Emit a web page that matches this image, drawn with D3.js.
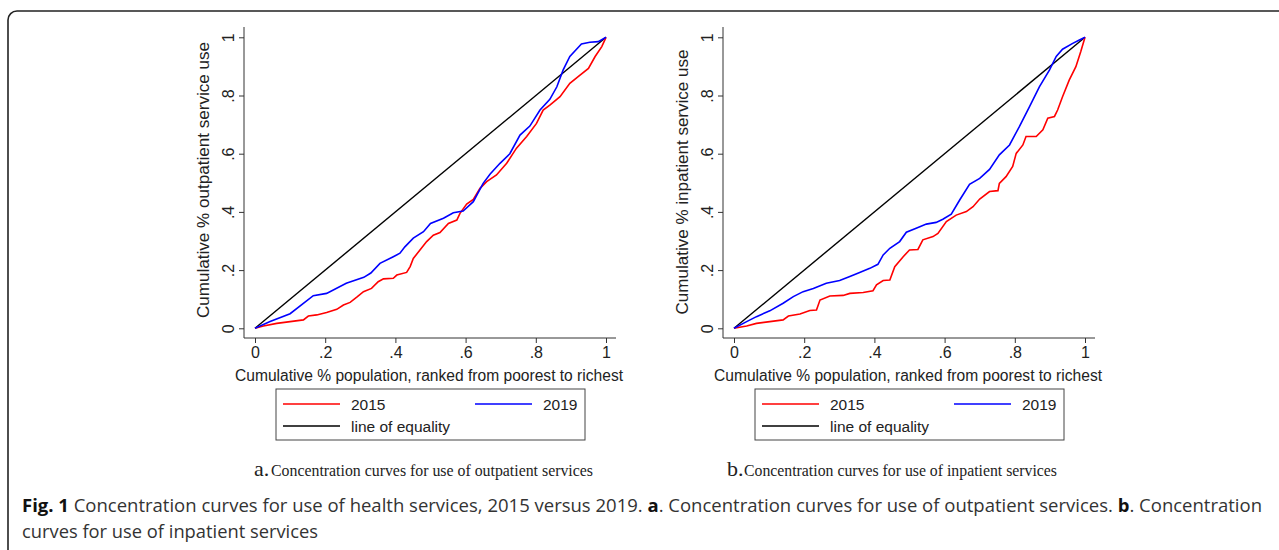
<!DOCTYPE html>
<html>
<head>
<meta charset="utf-8">
<script src="https://cdn.jsdelivr.net/npm/d3@7"></script>
<style>
  body { margin: 0; background: #fff; }
  svg { display: block; }
</style>
</head>
<body>
<script>
// tick values and labels (Stata style, no leading zero)
var tickValues = [0, 0.2, 0.4, 0.6, 0.8, 1];
var tickLabels = ['0', '.2', '.4', '.6', '.8', '1'];
var seriesNames = ['2015', '2019', 'line of equality'];
var seriesColors = ['#ff0000', '#0000ff', '#000000'];

// outpatient curves, [cumulative population, cumulative use]
var outpatient2015 = [[0,0],[0.024,0.008],[0.062,0.017],[0.1,0.023],[0.138,0.029],[0.152,0.042],[0.176,0.046],[0.204,0.054],[0.233,0.065],[0.252,0.08],[0.271,0.089],[0.29,0.107],[0.309,0.126],[0.332,0.137],[0.351,0.16],[0.366,0.17],[0.394,0.172],[0.404,0.183],[0.432,0.192],[0.442,0.212],[0.451,0.24],[0.47,0.269],[0.489,0.298],[0.508,0.32],[0.527,0.329],[0.551,0.36],[0.575,0.372],[0.584,0.395],[0.603,0.427],[0.622,0.443],[0.641,0.481],[0.66,0.504],[0.688,0.527],[0.717,0.567],[0.745,0.619],[0.774,0.659],[0.802,0.704],[0.821,0.75],[0.84,0.767],[0.869,0.796],[0.897,0.842],[0.926,0.87],[0.95,0.893],[0.969,0.934],[0.988,0.968],[1,1]];
var outpatient2019 = [[0,0],[0.043,0.023],[0.1,0.05],[0.166,0.112],[0.204,0.12],[0.26,0.155],[0.31,0.175],[0.33,0.19],[0.356,0.223],[0.394,0.246],[0.413,0.258],[0.427,0.28],[0.451,0.31],[0.48,0.332],[0.5,0.36],[0.537,0.378],[0.565,0.397],[0.593,0.403],[0.622,0.435],[0.65,0.498],[0.67,0.53],[0.698,0.567],[0.726,0.6],[0.755,0.664],[0.783,0.695],[0.812,0.75],[0.84,0.787],[0.86,0.83],[0.878,0.888],[0.897,0.934],[0.916,0.959],[0.93,0.977],[0.954,0.983],[0.978,0.985],[1,1]];

// inpatient curves
var inpatient2015 = [[0,0],[0.036,0.008],[0.064,0.017],[0.102,0.023],[0.14,0.029],[0.155,0.042],[0.188,0.049],[0.216,0.061],[0.235,0.063],[0.245,0.097],[0.273,0.111],[0.311,0.113],[0.33,0.12],[0.368,0.123],[0.396,0.129],[0.406,0.149],[0.425,0.164],[0.444,0.166],[0.458,0.212],[0.482,0.246],[0.5,0.269],[0.524,0.271],[0.538,0.304],[0.567,0.315],[0.581,0.326],[0.605,0.367],[0.633,0.389],[0.662,0.401],[0.681,0.418],[0.7,0.444],[0.728,0.47],[0.752,0.473],[0.756,0.498],[0.775,0.521],[0.794,0.556],[0.804,0.601],[0.823,0.63],[0.832,0.659],[0.861,0.659],[0.88,0.682],[0.894,0.722],[0.913,0.728],[0.922,0.75],[0.936,0.796],[0.955,0.853],[0.974,0.899],[0.988,0.951],[1,1]];
var inpatient2019 = [[0,0],[0.036,0.023],[0.064,0.04],[0.102,0.06],[0.14,0.086],[0.169,0.109],[0.197,0.126],[0.226,0.137],[0.263,0.155],[0.301,0.164],[0.33,0.178],[0.358,0.192],[0.387,0.206],[0.41,0.22],[0.425,0.252],[0.444,0.275],[0.472,0.298],[0.491,0.33],[0.519,0.344],[0.548,0.358],[0.576,0.364],[0.595,0.375],[0.619,0.392],[0.643,0.441],[0.671,0.495],[0.7,0.515],[0.728,0.546],[0.756,0.596],[0.785,0.63],[0.813,0.693],[0.842,0.762],[0.87,0.83],[0.899,0.888],[0.918,0.934],[0.936,0.959],[0.965,0.979],[0.984,0.991],[1,1]];
var equality = [[0,0],[1,1]];

var panels = [
    { dx: 0, ytitle: 'Cumulative % outpatient service use', ylen: 276, yc: 180,
      series: [outpatient2015, outpatient2019],
      letter: 'a.', caption: 'Concentration curves for use of outpatient services', capX: 254, capLen: 322 },
    { dx: 479, ytitle: 'Cumulative % inpatient service use', ylen: 265, yc: 182,
      series: [inpatient2015, inpatient2019],
      letter: 'b.', caption: 'Concentration curves for use of inpatient services', capX: 727, capLen: 313 }
];

var W = 1279, H = 550;
var svg = d3.select('body').append('svg').attr('width', W).attr('height', H);

// outer frame (continues past the picture edge)
svg.append('rect')
    .attr('x', 8).attr('y', 11)
    .attr('width', 1300).attr('height', 600)
    .attr('rx', 9).attr('ry', 9)
    .attr('fill', 'none').attr('stroke', '#222').attr('stroke-width', 1.6);

var sans = 'Liberation Sans, Arial, sans-serif';

panels.forEach(function (p) {
    var g = svg.append('g').attr('transform', 'translate(' + p.dx + ',0)');
    var x = d3.scaleLinear().domain([0, 1]).range([255, 606]);
    var y = d3.scaleLinear().domain([0, 1]).range([328.3, 37.3]);

    // y axis
    var yAxis = d3.axisLeft(y).tickValues(tickValues)
        .tickFormat(function (d, i) { return tickLabels[i]; })
        .tickSize(5).tickPadding(0);
    var ya = g.append('g').attr('transform', 'translate(244,0)').call(yAxis);
    ya.select('.domain').attr('d', 'M0,27V338').attr('stroke', '#333');
    ya.selectAll('.tick line').attr('stroke', '#333');
    ya.selectAll('.tick text')
        .attr('x', null).attr('dy', null)
        .attr('transform', 'translate(-10,0) rotate(-90)')
        .attr('text-anchor', 'middle')
        .style('font-family', sans).style('font-size', '16px').attr('fill', '#222');

    // x axis
    var xAxis = d3.axisBottom(x).tickValues(tickValues)
        .tickFormat(function (d, i) { return tickLabels[i]; })
        .tickSize(5).tickPadding(4);
    var xa = g.append('g').attr('transform', 'translate(0,338)').call(xAxis);
    xa.select('.domain').attr('d', 'M244,0H616').attr('stroke', '#333');
    xa.selectAll('.tick line').attr('stroke', '#333');
    xa.selectAll('.tick text')
        .style('font-family', sans).style('font-size', '16px').attr('fill', '#222');

    // axis titles
    g.append('text')
        .attr('transform', 'translate(209,' + p.yc + ') rotate(-90)')
        .attr('text-anchor', 'middle')
        .attr('textLength', p.ylen).attr('lengthAdjust', 'spacingAndGlyphs')
        .style('font-family', sans).style('font-size', '17px').attr('fill', '#222')
        .text(p.ytitle);
    g.append('text')
        .attr('x', 429).attr('y', 381)
        .attr('text-anchor', 'middle')
        .attr('textLength', 388).attr('lengthAdjust', 'spacingAndGlyphs')
        .style('font-family', sans).style('font-size', '16px').attr('fill', '#222')
        .text('Cumulative % population, ranked from poorest to richest');

    // curves
    var line = d3.line().x(function (d) { return x(d[0]); }).y(function (d) { return y(d[1]); });
    g.append('path').datum(equality).attr('d', line)
        .attr('fill', 'none').attr('stroke', seriesColors[2]).attr('stroke-width', 1.4);
    g.append('path').datum(p.series[0]).attr('d', line)
        .attr('fill', 'none').attr('stroke', seriesColors[0]).attr('stroke-width', 1.6);
    g.append('path').datum(p.series[1]).attr('d', line)
        .attr('fill', 'none').attr('stroke', seriesColors[1]).attr('stroke-width', 1.6);

    // legend
    var lg = g.append('g');
    lg.append('rect').attr('x', 276).attr('y', 389).attr('width', 309).attr('height', 51)
        .attr('fill', 'none').attr('stroke', '#444').attr('stroke-width', 1);
    var items = [
        { lx: 283, ly: 404, i: 0 },
        { lx: 475, ly: 404, i: 1 },
        { lx: 283, ly: 426, i: 2 }
    ];
    items.forEach(function (it) {
        lg.append('line').attr('x1', it.lx).attr('x2', it.lx + 57)
            .attr('y1', it.ly).attr('y2', it.ly)
            .attr('stroke', seriesColors[it.i]).attr('stroke-width', 1.4);
        lg.append('text').attr('x', it.lx + 68).attr('y', it.ly + 6)
            .style('font-family', sans).style('font-size', '15.5px').attr('fill', '#222')
            .text(seriesNames[it.i]);
    });

    // panel caption
    var cap = svg.append('text').attr('y', 476)
        .style('font-family', 'Liberation Serif, Times New Roman, serif').attr('fill', '#222');
    cap.append('tspan').attr('x', p.capX).style('font-size', '22px').text(p.letter);
    cap.append('tspan').attr('x', p.capX + 17)
        .attr('textLength', p.capLen).attr('lengthAdjust', 'spacingAndGlyphs')
        .style('font-size', '16px').text(p.caption);
});

// figure caption
var fcap = svg.append('g').style('font-family', 'Open Sans, sans-serif').style('font-size', '18.5px').attr('fill', '#333');
var l1 = fcap.append('text').attr('x', 22).attr('y', 512)
    .attr('textLength', 1240).attr('lengthAdjust', 'spacingAndGlyphs');
l1.append('tspan').style('font-weight', 'bold').attr('fill', '#111').text('Fig. 1');
l1.append('tspan').text(' Concentration curves for use of health services, 2015 versus 2019. ');
l1.append('tspan').style('font-weight', 'bold').attr('fill', '#111').text('a');
l1.append('tspan').text('. Concentration curves for use of outpatient services. ');
l1.append('tspan').style('font-weight', 'bold').attr('fill', '#111').text('b');
l1.append('tspan').text('. Concentration');
fcap.append('text').attr('x', 22).attr('y', 538)
    .attr('textLength', 296).attr('lengthAdjust', 'spacingAndGlyphs')
    .text('curves for use of inpatient services');
</script>
</body>
</html>
